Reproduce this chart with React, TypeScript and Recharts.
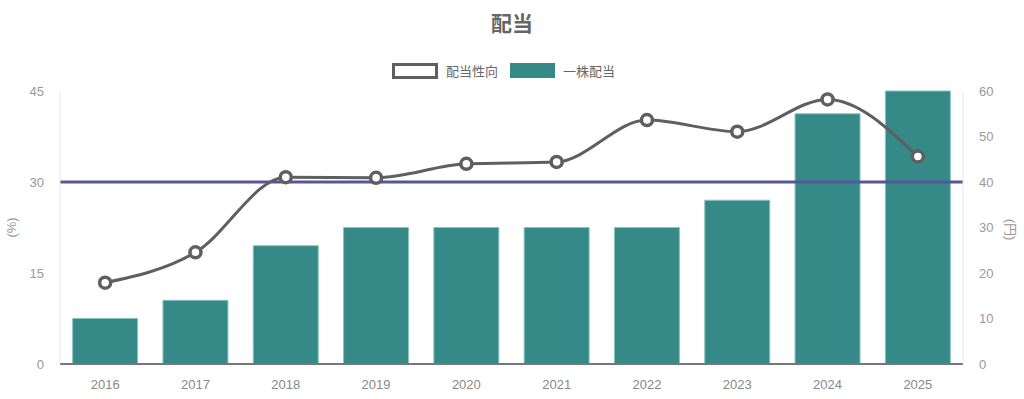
import { ComposedChart, Bar, Line, XAxis, YAxis, ReferenceLine } from 'recharts'

const years = ['2016', '2017', '2018', '2019', '2020', '2021', '2022', '2023', '2024', '2025']
const payoutRatio = [13.4, 18.4, 30.8, 30.7, 33.0, 33.3, 40.2, 38.3, 43.6, 34.2]
const dividendPerShare = [10, 14, 26, 30, 30, 30, 30, 36, 55, 60]
const leftTicks = [0, 15, 30, 45]
const rightTicks = [0, 10, 20, 30, 40, 50, 60]

const data = years.map((year, i) => ({
  year,
  ratio: payoutRatio[i],
  dps: dividendPerShare[i],
}))

const FONT = '"Liberation Sans", "Noto Sans CJK JP", sans-serif'
const TEAL = '#358a87'
const GRAY = '#5f5f5f'

export default function App() {
  return (
    <div style={{ position: 'absolute', left: 0, top: 0, width: 1024, height: 399, fontFamily: FONT, background: '#fff' }}>
      {/* title */}
      <div style={{ position: 'absolute', top: 7, width: 1024, textAlign: 'center', fontSize: 21, fontWeight: 'bold', color: '#666' }}>
        配当
      </div>

      {/* legend */}
      <div style={{ position: 'absolute', top: 61, left: 392, display: 'flex', alignItems: 'center', fontSize: 13, color: '#666' }}>
        <span style={{ width: 40, height: 10, border: `3px solid ${GRAY}`, background: '#fff', display: 'inline-block' }} />
        <span style={{ marginLeft: 8 }}>配当性向</span>
        <span style={{ marginLeft: 12, width: 45, height: 15, background: TEAL, display: 'inline-block' }} />
        <span style={{ marginLeft: 8 }}>一株配当</span>
      </div>

      {/* axis titles */}
      <div style={{ position: 'absolute', left: 1, top: 220, fontSize: 13, color: '#999', transform: 'rotate(-90deg)' }}>(%)</div>
      <div style={{ position: 'absolute', left: 1001, top: 220, fontSize: 13, color: '#999', transform: 'rotate(90deg)' }}>(円)</div>

      <ComposedChart
        width={1024}
        height={399}
        data={data}
        margin={{ top: 91, right: 0, bottom: 0, left: 0 }}
        barCategoryGap="14%"
      >
        <XAxis
          dataKey="year"
          height={35}
          tickLine={false}
          axisLine={{ stroke: '#777', strokeWidth: 2 }}
          tick={{ fill: '#888', fontSize: 13 }}
          tickMargin={10}
        />
        <YAxis
          yAxisId="left"
          orientation="left"
          width={60}
          domain={[0, 45]}
          ticks={leftTicks}
          tickLine={false}
          axisLine={{ stroke: '#e8e8e8' }}
          tick={{ fill: '#999', fontSize: 13 }}
          tickMargin={10}
        />
        <YAxis
          yAxisId="right"
          orientation="right"
          width={61}
          domain={[0, 60]}
          ticks={rightTicks}
          tickLine={false}
          axisLine={{ stroke: '#e8e8e8' }}
          tick={{ fill: '#999', fontSize: 13, textAnchor: 'start' }}
          tickMargin={10}
        />
        <Bar
          yAxisId="right"
          dataKey="dps"
          fill={TEAL}
          stroke="#8cc4c0"
          strokeWidth={1}
          isAnimationActive={false}
        />
        <ReferenceLine yAxisId="left" y={30} stroke="#56569c" strokeWidth={3} />
        <Line
          yAxisId="left"
          type="monotone"
          dataKey="ratio"
          stroke={GRAY}
          strokeWidth={3}
          dot={{ r: 5.5, fill: '#fff', stroke: GRAY, strokeWidth: 3.5 }}
          isAnimationActive={false}
        />
      </ComposedChart>
    </div>
  )
}
